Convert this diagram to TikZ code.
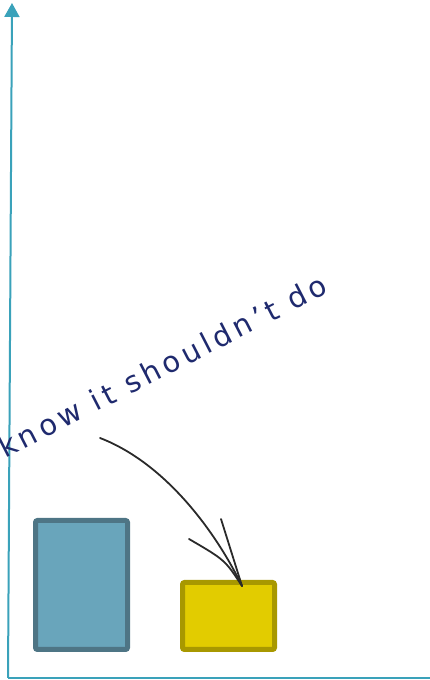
\documentclass[tikz,border=0pt]{standalone}
\usepackage{fontspec}
\newfontfamily\handfont[LetterSpace=15]{DejaVu Sans}
\usetikzlibrary{arrows.meta}
\definecolor{axiscol}{HTML}{3AA2BA}
\definecolor{barblue}{HTML}{69A5BB}
\definecolor{barblueedge}{HTML}{4E7585}
\definecolor{baryellow}{HTML}{E2CC00}
\definecolor{baryellowedge}{HTML}{A89800}
\definecolor{notecol}{HTML}{1F2A6E}
\definecolor{pencil}{HTML}{2A2A2A}
\tikzset{
  bar/.style={line width=5pt, rounded corners=2pt},
  pen/.style={pencil, line width=1.8pt, line cap=round}
}
\begin{document}
\begin{tikzpicture}[x=1pt, y=1pt]
    \useasboundingbox (0,0) rectangle (430,680);
    % Axes
    \coordinate (origin) at (8,2);
    \coordinate (ytop) at (12,677);
    \coordinate (xend) at (430,2);
    \draw[axiscol, line width=2pt, -{Triangle[length=14pt, width=15pt]}] (origin) -- (ytop);
    \draw[axiscol, line width=2pt] (origin) -- (xend);

    % Bars
    \draw[bar, draw=barblueedge, fill=barblue] (35.5,30.5) rectangle (127.5,159.5);
    \draw[bar, draw=baryellowedge, fill=baryellow] (182.5,30.5) rectangle (274.5,97.5);

    % Note and arrow
    \node[notecol, rotate=27.2, anchor=base west, inner sep=0pt, font=\handfont\fontsize{29}{29}\selectfont]
        (note) at (5,221) {know it shouldn’t do};
    \coordinate (start) at (100,242);
    \coordinate (tip) at (242,94);
    \draw[pen] (start) .. controls (170,215) and (220,140) .. (tip);
    \draw[pen] (tip) -- (221,161);
    \draw[pen] (tip) .. controls (225,120) .. (189,141);
\end{tikzpicture}
\end{document}
